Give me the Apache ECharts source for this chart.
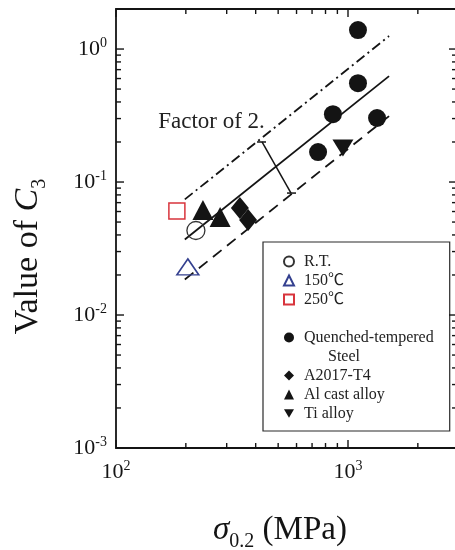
<!DOCTYPE html>
<html>
<head>
<meta charset="utf-8">
<script src="https://cdn.jsdelivr.net/npm/echarts@6/dist/echarts.min.js"></script>
<style>
html,body{margin:0;padding:0;background:#ffffff;}
#chart{width:455px;height:550px;}
</style>
</head>
<body>
<div id="chart"></div>
<script>
// ---------- axis ranges & tick values ----------
const xRange = [100, 2950];
const yRange = [0.001, 2];
const xMajorTicks = [100, 1000];
const xMinorTicks = [200, 300, 400, 500, 600, 700, 800, 900, 2000];
const yMajorTicks = [0.001, 0.01, 0.1, 1];
const yMinorTicks = [0.002, 0.003, 0.004, 0.005, 0.006, 0.007, 0.008, 0.009,
                     0.02, 0.03, 0.04, 0.05, 0.06, 0.07, 0.08, 0.09,
                     0.2, 0.3, 0.4, 0.5, 0.6, 0.7, 0.8, 0.9];

// ---------- series values (sigma_0.2 in MPa, C3) ----------
const rtX = [221];            const rtY = [0.0432];
const t150X = [204];          const t150Y = [0.0230];
const t250X = [183];          const t250Y = [0.0605];
const steelX = [1104, 1104, 861, 1334, 743];
const steelY = [1.39, 0.554, 0.324, 0.303, 0.168];
const a2017X = [342, 371];    const a2017Y = [0.0638, 0.0517];
const alCastX = [237, 281];   const alCastY = [0.0616, 0.0546];
const tiX = [951];            const tiY = [0.180];

// fitted band (solid), x2 (dash-dot), x1/2 (dashed)
const bandX = [198, 1503];
const fitY = [0.037, 0.626];
const upperY = [0.074, 1.252];
const lowerY = [0.0185, 0.313];

// "Factor of 2." indicator
const bracketFrom = [426, 0.200];
const bracketTo = [568, 0.0826];
const noteAt = [152, 0.282];
const noteText = 'Factor of 2.';

// legend names
const names = {
  rt: 'R.T.', t150: '150℃', t250: '250℃',
  steel: 'Quenched-tempered', a2017: 'A2017-T4', alCast: 'Al cast alloy', ti: 'Ti alloy'
};

// ---------- helpers ----------
const zip = (xs, ys) => xs.map((x, i) => [x, ys[i]]);
const SERIF = "'Liberation Serif', 'Times New Roman', 'Noto Sans CJK JP', serif";
const INK = '#141414';

function powLabel(v) {
  const e = Math.log10(v);
  const r = Math.round(e);
  if (Math.abs(e - r) > 1e-6) return '';
  return '{b|10}{s|' + r + '}';
}
const labelRich = {
  b: { fontFamily: SERIF, fontSize: 22, color: INK, lineHeight: 26 },
  s: { fontFamily: SERIF, fontSize: 14, color: INK, lineHeight: 14, verticalAlign: 'top' }
};

const xTickData = xMajorTicks.map(v => [v, yRange[0], 8]).concat(xMinorTicks.map(v => [v, yRange[0], 5]));
const yTickData = yMajorTicks.map(v => [xRange[0], v, 8]).concat(yMinorTicks.map(v => [xRange[0], v, 5]));

const chart = echarts.init(document.getElementById('chart'), null, { renderer: 'canvas' });

const option = {
  backgroundColor: '#ffffff',
  animation: false,
  grid: {
    left: 116, top: 9, width: 341, height: 439,
    show: true, borderColor: INK, borderWidth: 1.8, backgroundColor: 'transparent',
    containLabel: false, outerBoundsMode: 'none'
  },
  xAxis: {
    type: 'log', logBase: 10, min: xRange[0], max: xRange[1],
    axisLine: { show: false }, axisTick: { show: false }, splitLine: { show: false },
    axisLabel: { formatter: powLabel, rich: labelRich, margin: 11 },
    name: '{i|σ}{sub|0.2}{n| (MPa)}',
    nameLocation: 'middle', nameGap: 60,
    nameTextStyle: {
      padding: [0, 13, 0, 0],
      rich: {
        i: { fontFamily: SERIF, fontSize: 33, fontStyle: 'italic', color: INK, lineHeight: 44 },
        sub: { fontFamily: SERIF, fontSize: 20, color: INK, lineHeight: 22, verticalAlign: 'bottom' },
        n: { fontFamily: SERIF, fontSize: 33, color: INK, lineHeight: 44 }
      }
    }
  },
  yAxis: {
    type: 'log', logBase: 10, min: yRange[0], max: yRange[1],
    axisLine: { show: false }, axisTick: { show: false }, splitLine: { show: false },
    axisLabel: { formatter: powLabel, rich: labelRich, margin: 9 },
    name: '{n|Value of }{i|C}{sub|3}',
    nameLocation: 'middle', nameGap: 66,
    nameTextStyle: {
      padding: [0, 56, 0, 0],
      rich: {
        n: { fontFamily: SERIF, fontSize: 34, color: INK, lineHeight: 44 },
        i: { fontFamily: SERIF, fontSize: 34, fontStyle: 'italic', color: INK, lineHeight: 44 },
        sub: { fontFamily: SERIF, fontSize: 20, color: INK, lineHeight: 22, verticalAlign: 'bottom' }
      }
    }
  },
  legend: {
    orient: 'vertical', left: 263, top: 242,
    padding: [10, 16, 8, 20],
    itemGap: 0, itemWidth: 10, itemHeight: 10,
    symbolKeepAspect: true,
    borderColor: '#2a2a2a', borderWidth: 1.2,
    selectedMode: false,
    textStyle: { fontFamily: SERIF, fontSize: 16, color: '#222', lineHeight: 19, padding: [0, 0, 0, 5] },
    data: [names.rt, names.t150, names.t250, names.steel, names.a2017, names.alCast,
           { name: names.ti, icon: 'path://M0,0 L20,0 L10,17 Z' }],
    formatter: n => n === names.steel ? '\nQuenched-tempered\n      Steel' : n
  },
  series: [
    { type: 'line', data: zip(bandX, fitY), symbol: 'none', silent: true,
      lineStyle: { color: INK, width: 1.8, type: 'solid' }, z: 2 },
    { type: 'line', data: zip(bandX, upperY), symbol: 'none', silent: true,
      lineStyle: { color: INK, width: 1.8, type: [10, 4, 2, 4] }, z: 2 },
    { type: 'line', data: zip(bandX, lowerY), symbol: 'none', silent: true,
      lineStyle: { color: INK, width: 1.8, type: [11, 7] }, z: 2 },
    {
      type: 'custom', silent: true, z: 3,
      data: [[bracketFrom[0], bracketFrom[1], bracketTo[0], bracketTo[1]]],
      renderItem(params, api) {
        const a = api.coord([api.value(0), api.value(1)]);
        const b = api.coord([api.value(2), api.value(3)]);
        const st = { stroke: INK, lineWidth: 1.5 };
        return { type: 'group', children: [
          { type: 'line', shape: { x1: a[0], y1: a[1], x2: b[0], y2: b[1] }, style: st },
          { type: 'line', shape: { x1: a[0] - 5, y1: a[1], x2: a[0] + 4, y2: a[1] }, style: st },
          { type: 'line', shape: { x1: b[0] - 4, y1: b[1], x2: b[0] + 5, y2: b[1] }, style: st }
        ]};
      }
    },
    {
      type: 'custom', silent: true, z: 3,
      data: [[noteAt[0], noteAt[1]]],
      renderItem(params, api) {
        const p = api.coord([api.value(0), api.value(1)]);
        return { type: 'text', x: p[0], y: p[1],
          style: { text: noteText, fill: '#222', font: '23px ' + SERIF, textAlign: 'left', textVerticalAlign: 'middle' } };
      }
    },
    {
      type: 'custom', silent: true, z: 6, data: xTickData,
      renderItem(params, api) {
        const v = api.value(0), len = api.value(2);
        const b = api.coord([v, yRange[0]]), t = api.coord([v, yRange[1]]);
        const st = { stroke: INK, lineWidth: 1.4 };
        return { type: 'group', children: [
          { type: 'line', shape: { x1: b[0], y1: b[1], x2: b[0], y2: b[1] - len }, style: st },
          { type: 'line', shape: { x1: t[0], y1: t[1], x2: t[0], y2: t[1] + len }, style: st }
        ]};
      }
    },
    {
      type: 'custom', silent: true, z: 6, data: yTickData,
      renderItem(params, api) {
        const v = api.value(1), len = api.value(2);
        const l = api.coord([xRange[0], v]), r = api.coord([xRange[1], v]);
        const st = { stroke: INK, lineWidth: 1.4 };
        return { type: 'group', children: [
          { type: 'line', shape: { x1: l[0], y1: l[1], x2: l[0] + len, y2: l[1] }, style: st },
          { type: 'line', shape: { x1: r[0], y1: r[1], x2: r[0] - len, y2: r[1] }, style: st }
        ]};
      }
    },
    { name: names.rt, type: 'scatter', data: zip(rtX, rtY), symbol: 'circle', symbolSize: 18, z: 4,
      itemStyle: { color: 'rgba(0,0,0,0)', borderColor: '#333', borderWidth: 1.3, opacity: 1 } },
    { name: names.t150, type: 'scatter', data: zip(t150X, t150Y), symbol: 'triangle', symbolSize: [22, 16], z: 4,
      itemStyle: { color: 'rgba(0,0,0,0)', borderColor: '#34408f', borderWidth: 1.5, opacity: 1 } },
    { name: names.t250, type: 'scatter', data: zip(t250X, t250Y), symbol: 'rect', symbolSize: 16, z: 4,
      itemStyle: { color: 'rgba(0,0,0,0)', borderColor: '#d8343c', borderWidth: 1.5, opacity: 1 } },
    { name: names.steel, type: 'scatter', data: zip(steelX, steelY), symbol: 'circle', symbolSize: 18, z: 4,
      itemStyle: { color: INK, opacity: 1 } },
    { name: names.a2017, type: 'scatter', data: zip(a2017X, a2017Y), symbol: 'diamond', symbolSize: [18, 22], z: 4,
      itemStyle: { color: INK, opacity: 1 } },
    { name: names.alCast, type: 'scatter', data: zip(alCastX, alCastY), symbol: 'triangle', symbolSize: [21, 20], z: 4,
      itemStyle: { color: INK, opacity: 1 } },
    { name: names.ti, type: 'scatter', data: zip(tiX, tiY), symbol: 'triangle', symbolRotate: 180, symbolSize: [21, 17], z: 4,
      itemStyle: { color: INK, opacity: 1 } }
  ]
};
chart.setOption(option);
</script>
</body>
</html>
